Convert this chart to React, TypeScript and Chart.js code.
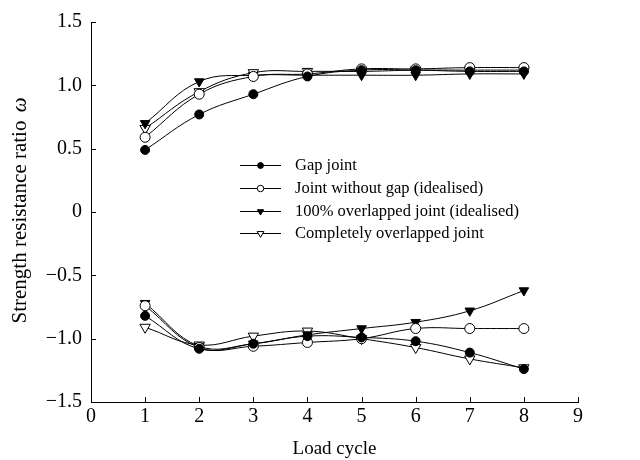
import React, { useEffect, useRef } from "react";
import { Chart, registerables } from "chart.js";

Chart.register(...registerables);

const cycles = [1, 2, 3, 4, 5, 6, 7, 8];
const xTicks = [0, 1, 2, 3, 4, 5, 6, 7, 8, 9];
const yTicks = [-1.5, -1.0, -0.5, 0, 0.5, 1.0, 1.5];

const gapUpper = [0.49, 0.77, 0.93, 1.07, 1.12, 1.12, 1.11, 1.11];
const gapLower = [-0.82, -1.08, -1.04, -0.98, -0.99, -1.02, -1.11, -1.24];
const noGapUpper = [0.59, 0.93, 1.07, 1.09, 1.13, 1.13, 1.14, 1.14];
const noGapLower = [-0.74, -1.07, -1.06, -1.03, -1.0, -0.92, -0.92, -0.92];
const full100Upper = [0.7, 1.03, 1.08, 1.08, 1.08, 1.08, 1.09, 1.09];
const full100Lower = [-0.72, -1.06, -1.04, -0.97, -0.92, -0.87, -0.78, -0.62];
const completeUpper = [0.66, 0.95, 1.1, 1.11, 1.11, 1.12, 1.12, 1.12];
const completeLower = [-0.91, -1.05, -0.98, -0.94, -1.0, -1.07, -1.16, -1.23];

const seriesNames = [
  "Gap joint",
  "Joint without gap (idealised)",
  "100% overlapped joint (idealised)",
  "Completely overlapped joint",
];

const FONT = "'Liberation Serif', 'Times New Roman', serif";

type Marker = { style: string; rotation: number; fill: string; radius: number };
const markers: Marker[] = [
  { style: "circle", rotation: 0, fill: "#000", radius: 4.5 },
  { style: "circle", rotation: 0, fill: "#fff", radius: 5 },
  { style: "triangle", rotation: 180, fill: "#000", radius: 5.5 },
  { style: "triangle", rotation: 180, fill: "#fff", radius: 6 },
];

const pairs: [number[], number[]][] = [
  [gapUpper, gapLower],
  [noGapUpper, noGapLower],
  [full100Upper, full100Lower],
  [completeUpper, completeLower],
];

function drawMarker(ctx: CanvasRenderingContext2D, m: Marker, x: number, y: number, r: number) {
  ctx.beginPath();
  if (m.style === "circle") {
    ctx.arc(x, y, r, 0, Math.PI * 2);
  } else {
    const h = r * 1.5;
    const w = r * 0.866 * 2;
    ctx.moveTo(x - w / 2, y - h / 3);
    ctx.lineTo(x + w / 2, y - h / 3);
    ctx.lineTo(x, y + (2 * h) / 3);
    ctx.closePath();
  }
  ctx.fillStyle = m.fill;
  ctx.fill();
  ctx.strokeStyle = "#000";
  ctx.lineWidth = 1;
  ctx.stroke();
}

const overlayPlugin = {
  id: "overlay",
  afterDraw(chart: any) {
    const ctx = chart.ctx as CanvasRenderingContext2D;
    const xs = chart.scales.x;
    const ys = chart.scales.y;
    const area = chart.chartArea;
    ctx.save();
    ctx.strokeStyle = "#000";
    ctx.lineWidth = 1;
    ctx.beginPath();
    xTicks.forEach((v) => {
      const px = Math.round(xs.getPixelForValue(v)) + 0.5;
      ctx.moveTo(px, area.bottom);
      ctx.lineTo(px, area.bottom - 5);
    });
    yTicks.forEach((v) => {
      const py = Math.round(ys.getPixelForValue(v)) + 0.5;
      ctx.moveTo(area.left, py);
      ctx.lineTo(area.left + 5, py);
    });
    ctx.stroke();

    const cy = (area.top + area.bottom) / 2;
    ctx.translate(20, cy);
    ctx.rotate(-Math.PI / 2);
    ctx.fillStyle = "#000";
    ctx.textBaseline = "middle";
    const main = "Strength resistance ratio ";
    ctx.font = `21px ${FONT}`;
    const w1 = ctx.measureText(main).width;
    ctx.font = `italic 21px ${FONT}`;
    const w2 = ctx.measureText("ω").width;
    const start = -(w1 + w2) / 2;
    ctx.font = `21px ${FONT}`;
    ctx.textAlign = "left";
    ctx.fillText(main, start, 0);
    ctx.font = `italic 21px ${FONT}`;
    ctx.fillText("ω", start + w1 + 3, 0);
    ctx.restore();

    ctx.save();
    const rowsY = [165, 188, 211, 233];
    seriesNames.forEach((name, i) => {
      const y = rowsY[i] + 0.5;
      ctx.strokeStyle = "#000";
      ctx.lineWidth = 1;
      ctx.beginPath();
      ctx.moveTo(240, y);
      ctx.lineTo(281, y);
      ctx.stroke();
      const m = markers[i];
      drawMarker(ctx, m, 260.5, y, m.radius * 0.65);
      ctx.fillStyle = "#000";
      ctx.font = `16.5px ${FONT}`;
      ctx.textBaseline = "middle";
      ctx.textAlign = "left";
      ctx.fillText(name, 295, rowsY[i] + 1);
    });
    ctx.restore();
  },
};

export default function App() {
  const ref = useRef<HTMLCanvasElement | null>(null);
  useEffect(() => {
    if (!ref.current) return;
    const datasets: any[] = [];
    pairs.forEach((pair, i) => {
      const m = markers[i];
      pair.forEach((vals, j) => {
        datasets.push({
          label: seriesNames[i] + (j === 0 ? "" : " (lower)"),
          data: cycles.map((c, k) => ({ x: c, y: vals[k] })),
          borderColor: "#000",
          backgroundColor: m.fill,
          pointBackgroundColor: m.fill,
          pointBorderColor: "#000",
          pointStyle: m.style,
          pointRotation: m.rotation,
          pointRadius: m.radius,
          pointBorderWidth: 1,
          borderWidth: 1,
          tension: 0.4,
          fill: false,
        });
      });
    });
    const tickFont = { family: FONT, size: 20 };
    const chart = new Chart(ref.current, {
      type: "line",
      data: { datasets },
      options: {
        animation: false,
        responsive: true,
        maintainAspectRatio: false,
        layout: { padding: { top: 22, right: 62, left: 0, bottom: 0 } },
        plugins: { legend: { display: false }, tooltip: { enabled: false } },
        scales: {
          x: {
            type: "linear",
            min: 0,
            max: 9,
            afterBuildTicks: (s: any) => {
              s.ticks = xTicks.map((v) => ({ value: v }));
            },
            ticks: { font: tickFont, color: "#000", padding: 3, callback: (v: any) => String(v) },
            grid: { display: true, drawOnChartArea: false, drawTicks: false },
            border: { display: true, color: "#000", width: 1 },
            title: {
              display: true,
              text: "Load cycle",
              font: { family: FONT, size: 19 },
              color: "#000",
              padding: { top: 0, bottom: 0 },
            },
            afterFit: (s: any) => {
              s.height = 58;
            },
          },
          y: {
            type: "linear",
            min: -1.5,
            max: 1.5,
            afterBuildTicks: (s: any) => {
              s.ticks = yTicks.map((v) => ({ value: v }));
            },
            ticks: {
              font: tickFont,
              color: "#000",
              padding: 9,
              callback: (v: any) => {
                const n = Number(v);
                if (Math.abs(n) < 1e-9) return "0";
                return n.toFixed(1).replace("-", "\u2212");
              },
            },
            grid: { display: true, drawOnChartArea: false, drawTicks: false },
            border: { display: true, color: "#000", width: 1 },
            afterFit: (s: any) => {
              s.width = 91;
            },
          },
        },
      },
      plugins: [overlayPlugin],
    });
    return () => chart.destroy();
  }, []);
  return (
    <div style={{ position: "absolute", left: 0, top: 0, width: 640, height: 460, background: "#fff" }}>
      <canvas ref={ref} />
    </div>
  );
}
